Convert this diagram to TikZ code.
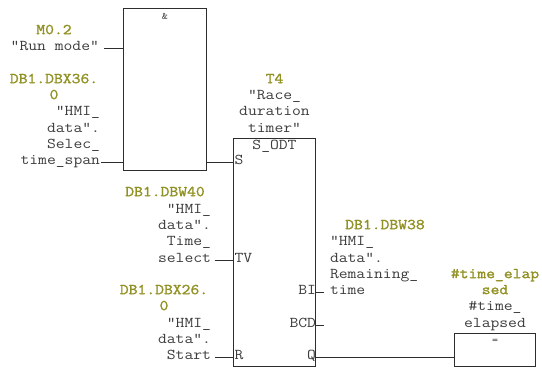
\documentclass[tikz,border=0pt]{standalone}
\usepackage{fontspec}
\newfontfamily\cfont{Latin Modern Mono}[FakeStretch=1.143,Ligatures=ResetAll]
\newfontfamily\cbfont{Latin Modern Mono}[FakeStretch=1.143,FakeBold=1.6,Ligatures=ResetAll]
\newcommand\dq{\symbol{34}}
\definecolor{addr}{RGB}{145,145,35}
\definecolor{txt}{RGB}{60,60,60}
\definecolor{ln}{RGB}{45,45,45}
\begin{document}
\begin{tikzpicture}[x=1pt,y=-1pt,
  every node/.style={inner sep=0pt,outer sep=0pt},
  gtxt/.style={text=addr,font=\cbfont\fontsize{15}{16}\selectfont,anchor=mid},
  ntxt/.style={text=txt,font=\cfont\fontsize{15}{16}\selectfont},
  nr/.style={ntxt,anchor=mid east},
  nl/.style={ntxt,anchor=mid west},
  nc/.style={ntxt,anchor=mid},
  blk/.style={draw=ln,line width=0.9pt,rectangle},
  wire/.style={draw=ln,line width=0.9pt}]
\useasboundingbox (0,0) rectangle (542,369);

% boxes
\node[blk,minimum width=82.5pt,minimum height=162pt] (and) at (164.75,89) {};
\node[blk,minimum width=82pt,minimum height=228pt] (odt) at (274.5,252) {};
\node[blk,minimum width=81.5pt,minimum height=33pt] (eq) at (494.75,349.5) {};

\node[ntxt,font=\cfont\fontsize{10}{11}\selectfont,anchor=mid] (amp) at (165,17) {\&};
\node[ntxt,font=\cfont\fontsize{10}{11}\selectfont,anchor=mid] (eqs) at (495,341) {=};
\node[nc] (sodt) at (274.5,147) {S\_ODT};

% block 1
\node[gtxt] (m02) at (54,32) {M0.2};
\node[nr] (runmode) at (99,48.5) {\dq Run mode\dq};
\node[gtxt] (dbx36) at (54,81) {DB1.DBX36.};
\node[gtxt] (dbx36b) at (54,97) {0};
\node[nr] (hmi1) at (100,113) {\dq HMI\_};
\node[nr] (data1) at (100,130) {data\dq.};
\node[nr] (selec) at (100,146) {Selec\_};
\node[nr] (tspan) at (100,162.5) {time\_span};

% block 2
\node[gtxt] (dbw40) at (165,194) {DB1.DBW40};
\node[nr] (hmi2) at (211,211) {\dq HMI\_};
\node[nr] (data2) at (211,227) {data\dq.};
\node[nr] (time2) at (211,243) {Time\_};
\node[nr] (select) at (211,260) {select};

% block 3
\node[gtxt] (dbx26) at (164,292) {DB1.DBX26.};
\node[gtxt] (dbx26b) at (164,308) {0};
\node[nr] (hmi3) at (211,325) {\dq HMI\_};
\node[nr] (data3) at (211,341) {data\dq.};
\node[nr] (start) at (211,357) {Start};

% timer header
\node[gtxt] (t4) at (274.5,81) {T4};
\node[nc] (race) at (274.5,97) {\dq Race\_};
\node[nc] (dur) at (274.5,113) {duration};
\node[nc] (timer) at (274.5,130) {timer\dq};

% pins
\node[nl] (pS) at (234.5,162.5) {S};
\node[nl] (pTV) at (234.5,260) {TV};
\node[nl] (pR) at (234.5,357) {R};
\node[nr] (pBI) at (316,292) {BI};
\node[nr] (pBCD) at (316,325.5) {BCD};
\node[nr] (pQ) at (316,357) {Q};

% right block
\node[gtxt] (dbw38) at (385,227) {DB1.DBW38};
\node[nl] (hmi4) at (330,243) {\dq HMI\_};
\node[nl] (data4) at (330,260) {data\dq.};
\node[nl] (rem) at (330,276) {Remaining\_};
\node[nl] (time4) at (330,292) {time};

% elapsed
\node[gtxt] (te1) at (495,276) {\#time\_elap};
\node[gtxt] (te2) at (495,292) {sed};
\node[nc] (te3) at (495,308) {\#time\_};
\node[nc] (te4) at (495,325) {elapsed};

% free ends
\coordinate (c1) at (104,48.5);
\coordinate (c2) at (101,162.5);
\coordinate (c3) at (214.5,260);
\coordinate (c4) at (214.5,357);
\coordinate (c5) at (324,292);
\coordinate (c6) at (324,325.5);

% wires
\draw[wire] (c1) -- (c1 -| and.west);
\draw[wire] (c2) -- (c2 -| and.west);
\draw[wire] (c2 -| and.east) -- (c2 -| odt.west);
\draw[wire] (c3) -- (c3 -| odt.west);
\draw[wire] (c4) -- (c4 -| odt.west);
\draw[wire] (c5 -| odt.east) -- (c5);
\draw[wire] (c6 -| odt.east) -- (c6);
\draw[wire] (c4 -| odt.east) -- (c4 -| eq.west);
\end{tikzpicture}
\end{document}
